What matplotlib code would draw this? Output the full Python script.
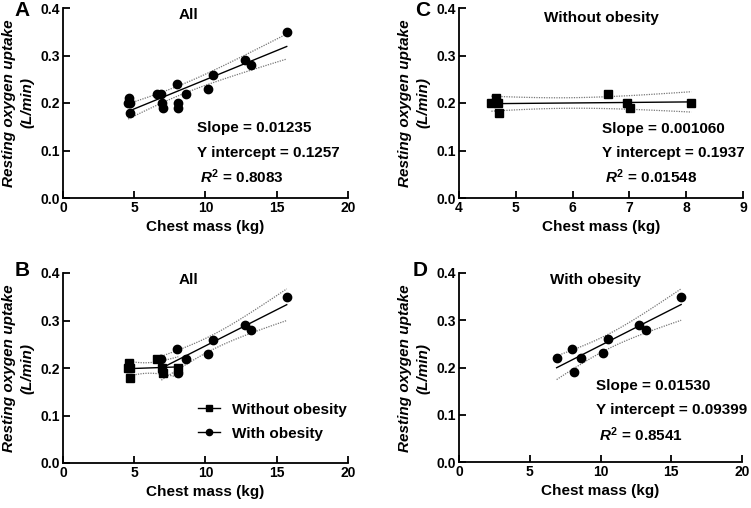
import numpy as np
import matplotlib
matplotlib.use("Agg")
import matplotlib.pyplot as plt
from matplotlib.lines import Line2D

plt.rcParams['font.family'] = ['Liberation Sans', 'DejaVu Sans']
plt.rcParams['mathtext.fontset'] = 'custom'
plt.rcParams['mathtext.it'] = 'Liberation Sans:italic:bold'
plt.rcParams['mathtext.bf'] = 'Liberation Sans:bold'
plt.rcParams['mathtext.rm'] = 'Liberation Sans:bold'

# ---- data ----
x_without = [4.57, 4.65, 4.69, 4.71, 6.63, 6.95, 7.01, 8.09]
y_without = [0.20, 0.21, 0.20, 0.18, 0.22, 0.20, 0.19, 0.20]
x_with = [6.90, 8.00, 8.10, 8.60, 10.15, 10.55, 12.75, 13.20, 15.70]
y_with = [0.22, 0.24, 0.19, 0.22, 0.23, 0.26, 0.29, 0.28, 0.35]

panel_letters = ["A", "B", "C", "D"]
panel_titles = ["All", "All", "Without obesity", "With obesity"]
stats_A = ["Slope = 0.01235", "Y intercept = 0.1257", r"$R^{\mathbf{2}}$ = 0.8083"]
stats_C = ["Slope = 0.001060", "Y intercept = 0.1937", r"$R^{\mathbf{2}}$ = 0.01548"]
stats_D = ["Slope = 0.01530", "Y intercept = 0.09399", r"$R^{\mathbf{2}}$ = 0.8541"]
legend_labels = ["Without obesity", "With obesity"]
xlabel = "Chest mass (kg)"
ylabel1 = "Resting oxygen uptake"
ylabel2 = "(L/min)"

# two-sided 95% t critical values by degrees of freedom
T975 = {6: 2.447, 7: 2.365, 15: 2.131}

W, H = 751, 508
fig = plt.figure(figsize=(W / 100, H / 100), dpi=100)


def rect(l, t, r, b):
    return [l / W, 1 - b / H, (r - l) / W, (b - t) / H]


def fp(x, y):
    return x / W, 1 - y / H


def fit_and_draw(ax, x, y):
    x = np.asarray(x, float)
    y = np.asarray(y, float)
    n = len(x)
    b, a = np.polyfit(x, y, 1)
    xs = np.linspace(x.min(), x.max(), 100)
    yh = a + b * xs
    res = y - (a + b * x)
    s = np.sqrt(np.sum(res ** 2) / (n - 2))
    sxx = np.sum((x - x.mean()) ** 2)
    t = T975[n - 2]
    se = s * np.sqrt(1 / n + (xs - x.mean()) ** 2 / sxx)
    ax.plot(xs, yh, color='black', lw=1.0, zorder=2)
    ax.plot(xs, yh + t * se, color='#777777', lw=0.9, ls=(0, (1, 1)), zorder=2)
    ax.plot(xs, yh - t * se, color='#777777', lw=0.9, ls=(0, (1, 1)), zorder=2)


def style(ax, xlim, xticks):
    ax.set_xlim(*xlim)
    ax.set_ylim(0, 0.4)
    ax.set_xticks(xticks)
    ax.set_yticks([0.0, 0.1, 0.2, 0.3, 0.4])
    ax.set_yticklabels(["0.0", "0.1", "0.2", "0.3", "0.4"])
    for sp in ['top', 'right']:
        ax.spines[sp].set_visible(False)
    for sp in ['left', 'bottom']:
        ax.spines[sp].set_linewidth(1.3)
    ax.tick_params(direction='in', length=5, width=1.3, labelsize=10, pad=2)
    for lab in ax.get_xticklabels() + ax.get_yticklabels():
        lab.set_fontweight('bold')
    ax.set_xlabel(xlabel, fontsize=11, fontweight='bold', labelpad=4)
    ax.patch.set_alpha(0)


axA = fig.add_axes(rect(63, 8, 348, 198))
axC = fig.add_axes(rect(459, 8, 743, 198))
axB = fig.add_axes(rect(63, 273, 348, 463))
axD = fig.add_axes(rect(459, 273, 742, 462))

ms_c = 6.0
ms_s = 6.0

# A: all combined
x_all = x_without + x_with
y_all = y_without + y_with
axA.plot(x_all, y_all, 'o', color='black', ms=ms_c, zorder=3)
fit_and_draw(axA, x_all, y_all)
style(axA, (0, 20), [0, 5, 10, 15, 20])

# C: without obesity
axC.plot(x_without, y_without, 's', color='black', ms=ms_s, zorder=3)
fit_and_draw(axC, x_without, y_without)
style(axC, (4, 9), [4, 5, 6, 7, 8, 9])

# B: both groups
axB.plot(x_without, y_without, 's', color='black', ms=ms_s, zorder=3)
axB.plot(x_with, y_with, 'o', color='black', ms=ms_c, zorder=3)
fit_and_draw(axB, x_without, y_without)
fit_and_draw(axB, x_with, y_with)
style(axB, (0, 20), [0, 5, 10, 15, 20])
handles = [Line2D([], [], color='black', lw=1.0, marker='s', ms=4.5),
           Line2D([], [], color='black', lw=1.0, marker='o', ms=4.5)]
axB.legend(handles, legend_labels, loc='upper left', bbox_to_anchor=(0.475, 0.318),
           frameon=False, borderpad=0, borderaxespad=0, handlelength=1.4,
           handletextpad=0.8, labelspacing=0.66,
           prop={'size': 11, 'weight': 'bold'})

# D: with obesity
axD.plot(x_with, y_with, 'o', color='black', ms=ms_c, zorder=3)
fit_and_draw(axD, x_with, y_with)
style(axD, (0, 20), [0, 5, 10, 15, 20])

# titles
for ax, title, xf, yf in [(axA, panel_titles[0], 0.441, 0.963),
                          (axB, panel_titles[1], 0.441, 0.963),
                          (axC, panel_titles[2], 0.5, 0.947),
                          (axD, panel_titles[3], 0.482, 0.963)]:
    ax.text(xf, yf, title, transform=ax.transAxes, ha='center', va='center',
            fontsize=11, fontweight='bold')

# stats text
for lines, (x0, ys) in [(stats_A, (197, [128, 153, 177])),
                        (stats_C, (602, [129, 153, 177])),
                        (stats_D, (596, [386, 410, 435]))]:
    for i, (s, yy) in enumerate(zip(lines, ys)):
        xx = x0 + (3 if i == 2 else 0)
        fig.text(*fp(xx, yy), s, ha='left', va='center', fontsize=11, fontweight='bold')

# panel letters
for letter, (xx, yy) in zip(panel_letters, [(22, 11), (22, 271), (423, 11), (420, 271)]):
    fig.text(*fp(xx, yy), letter, ha='center', va='center', fontsize=15, fontweight='bold')

# y labels
for (x1, x2, yc) in [(9, 27, 103), (405, 423, 103), (9, 27, 368), (405, 423, 368)]:
    fig.text(*fp(x1, yc), ylabel1, rotation=90, ha='center', va='center',
             fontsize=11, fontweight='bold', fontstyle='italic')
    fig.text(*fp(x2, yc), ylabel2, rotation=90, ha='center', va='center',
             fontsize=11, fontweight='bold', fontstyle='italic')

fig.savefig("out.png", dpi=100)
